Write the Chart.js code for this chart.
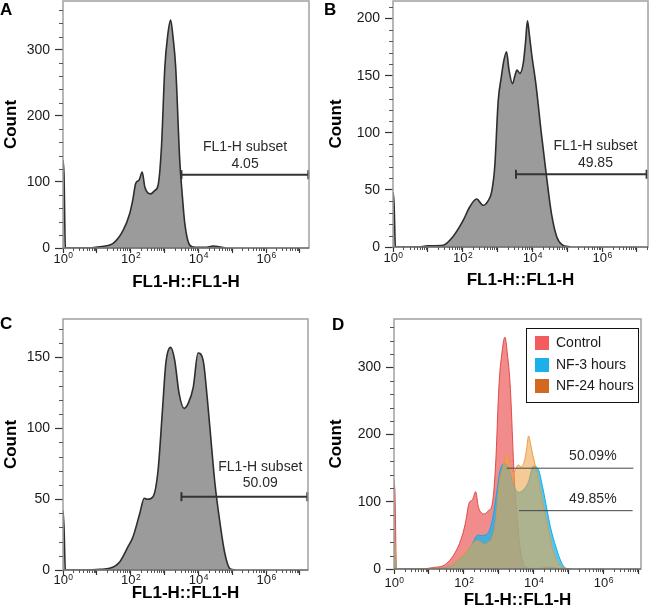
<!DOCTYPE html>
<html>
<head>
<meta charset="utf-8">
<script src="https://cdn.jsdelivr.net/npm/chart.js@4.4.1/dist/chart.umd.min.js"></script>
<style>
  body { margin: 0; background: #fff; width: 649px; height: 613px; overflow: hidden; position: relative; }
  .panel { position: absolute; }
  .letter { position: absolute; font: bold 17px "Liberation Sans", Arial, sans-serif; line-height: 1; color: #000; }
</style>
</head>
<body>
<canvas class="panel" id="chartA" width="325" height="300" style="left:0;top:0"></canvas>
<canvas class="panel" id="chartB" width="324" height="300" style="left:325px;top:0"></canvas>
<canvas class="panel" id="chartC" width="325" height="313" style="left:0;top:300px"></canvas>
<canvas class="panel" id="chartD" width="324" height="313" style="left:325px;top:300px"></canvas>
<div class="letter" style="left:0;top:1px">A</div>
<div class="letter" style="left:324px;top:1px">B</div>
<div class="letter" style="left:0;top:315px">C</div>
<div class="letter" style="left:332px;top:316px">D</div>
<script>
// x values are decades of FL1-H intensity (log10), y values are event counts
const decadesA = [0, 0.03, 0.07, 0.8, 1.1, 1.48, 1.78, 1.97, 2.06, 2.15, 2.25, 2.34, 2.42, 2.59, 2.71, 2.81, 2.91, 3.01, 3.09, 3.18, 3.25, 3.33, 3.45, 3.53, 3.6, 3.75, 3.9, 4.2, 4.44, 4.6, 4.8];
const countsA = [133, 110, 0, 0, 2, 7, 27, 52, 72, 98, 103, 115, 92, 82, 87, 95, 153, 274, 320, 345, 320, 274, 133, 77, 37, 4, 1, 1, 3, 2, 0];

const decadesB = [0, 0.03, 0.07, 0.7, 1.0, 1.44, 1.72, 2.01, 2.2, 2.4, 2.59, 2.72, 2.83, 2.92, 3.02, 3.11, 3.18, 3.26, 3.33, 3.43, 3.5, 3.56, 3.64, 3.74, 3.8, 3.86, 3.91, 3.98, 4.1, 4.26, 4.41, 4.55, 4.7, 4.85, 5.1];
const countsB = [48, 38, 0, 0, 1, 1.5, 9, 23, 35, 42, 36.5, 40, 48, 70, 128, 149, 163, 171, 155, 143, 150, 155, 152, 161, 178, 198, 187, 169, 143, 99, 61, 29, 9, 2, 0];

const decadesC = [0, 0.03, 0.07, 0.79, 1.09, 1.38, 1.68, 1.92, 2.07, 2.27, 2.4, 2.49, 2.66, 2.81, 2.94, 3.04, 3.18, 3.3, 3.43, 3.58, 3.7, 3.85, 3.99, 4.14, 4.26, 4.39, 4.49, 4.64, 4.78, 4.93, 5.1];
const countsC = [42, 30, 0, 0, 0.5, 1.2, 5.9, 16.4, 23.5, 40, 50.6, 49.9, 51.7, 70.5, 113, 146, 157, 148, 124.6, 114, 117.5, 129, 153, 148, 122, 87, 61, 33, 12, 1, 0];

// gates: [from decade, to decade, count level]
const gateA = [3.5, 7.25, 111];
const gateB = [3.53, 7.28, 63.7];
const gateC = [3.5, 7.22, 51.7];
const gateD1 = [3.23, 6.86, 150];
const gateD2 = [3.58, 6.84, 86.8];
const gateTextA = ['FL1-H subset', '4.05'];
const gateTextB = ['FL1-H subset', '49.85'];
const gateTextC = ['FL1-H subset', '50.09'];
const gateTextD = ['50.09%', '49.85%'];

const seriesD = ['Control', 'NF-3 hours', 'NF-24 hours'];
const legendColorsD = ['#f25c5c', '#1cb0ea', '#d2691e'];

const yTicksA = [0, 100, 200, 300];
const yTicksB = [0, 50, 100, 150, 200];
const yTicksC = [0, 50, 100, 150];
const yTicksD = [0, 100, 200, 300];
const decadeTicks = [0, 1, 2, 3, 4, 5, 6, 7];
const labelledDecades = [0, 2, 4, 6];

const FONT = '"Liberation Sans", Arial, Helvetica, sans-serif';
Chart.defaults.font.family = FONT;
Chart.defaults.color = '#1a1a1a';

const frame = {
  id: 'frame',
  afterDatasetsDraw(chart) {
    const {ctx, chartArea: a} = chart;
    ctx.save();
    ctx.strokeStyle = '#a0a0a0';
    ctx.lineWidth = 1.5;
    ctx.strokeRect(a.left, a.top, a.right - a.left, a.bottom - a.top);
    ctx.strokeStyle = '#555';
    ctx.lineWidth = 1.2;
    ctx.beginPath();
    ctx.moveTo(a.left, a.bottom);
    ctx.lineTo(a.right, a.bottom);
    ctx.stroke();
    ctx.restore();
  }
};

function minorTicks(step, majors) {
  return {
    id: 'minorTicks',
    afterDraw(chart) {
      const {ctx, chartArea: a, scales: {x, y}} = chart;
      ctx.save();
      ctx.strokeStyle = '#555';
      ctx.lineWidth = 1;
      ctx.beginPath();
      decadeTicks.forEach(d => {
        for (let k = 2; k <= 9; k++) {
          const v = d + Math.log10(k);
          if (v > x.max) continue;
          const px = Math.round(x.getPixelForValue(v)) + 0.5;
          ctx.moveTo(px, a.bottom);
          ctx.lineTo(px, a.bottom + 3);
        }
      });
      for (let v = step; v < y.max; v += step) {
        if (majors.includes(v)) continue;
        const py = Math.round(y.getPixelForValue(v)) + 0.5;
        ctx.moveTo(a.left - 4, py);
        ctx.lineTo(a.left, py);
      }
      ctx.stroke();
      ctx.restore();
    }
  };
}

// "10" with a small raised exponent under each even decade
function decadeLabels(gap) {
  return {
    id: 'decadeLabels',
    afterDraw(chart) {
      const {ctx, chartArea: a, scales: {x}} = chart;
      const base = a.bottom + gap + 9.3;
      ctx.save();
      ctx.fillStyle = '#1a1a1a';
      ctx.textAlign = 'left';
      ctx.textBaseline = 'alphabetic';
      labelledDecades.forEach(d => {
        if (d > x.max) return;
        const e = String(d);
        ctx.font = '13px ' + FONT;
        const wb = ctx.measureText('10').width;
        ctx.font = '8.5px ' + FONT;
        const we = ctx.measureText(e).width;
        const x0 = x.getPixelForValue(d) - (wb + we) / 2;
        ctx.font = '13px ' + FONT;
        ctx.fillText('10', x0, base);
        ctx.font = '8.5px ' + FONT;
        ctx.fillText(e, x0 + wb + 0.5, base - 4.7);
      });
      ctx.restore();
    }
  };
}

function gateLabels(items) {
  return {
    id: 'gateLabels',
    afterDatasetsDraw(chart) {
      const {ctx, scales: {x, y}} = chart;
      ctx.save();
      ctx.font = '14px ' + FONT;
      ctx.fillStyle = '#2a2a2a';
      ctx.textAlign = 'center';
      ctx.textBaseline = 'middle';
      items.forEach(it => {
        const px = x.getPixelForValue(it.x);
        const py = y.getPixelForValue(it.y);
        it.lines.forEach((t, i) => ctx.fillText(t, px, py - it.offsets[i]));
      });
      ctx.restore();
    }
  };
}

function insideLegend(labels, colors) {
  return {
    id: 'insideLegend',
    afterDatasetsDraw(chart) {
      const {ctx, chartArea: a} = chart;
      const left = Math.round(a.right - 115), top = Math.round(a.top + 9);
      ctx.save();
      ctx.fillStyle = '#fff';
      ctx.fillRect(left, top, 112, 74);
      ctx.strokeStyle = '#111';
      ctx.lineWidth = 1;
      ctx.strokeRect(left + 0.5, top + 0.5, 112, 74);
      ctx.font = '14px ' + FONT;
      ctx.textAlign = 'left';
      ctx.textBaseline = 'middle';
      labels.forEach((lab, i) => {
        const cy = top + 15 + i * 21.7;
        ctx.fillStyle = colors[i];
        ctx.fillRect(left + 9, Math.round(cy - 7), 14, 14);
        ctx.fillStyle = '#1a1a1a';
        ctx.fillText(lab, left + 30, cy);
      });
      ctx.restore();
    }
  };
}

function points(decades, counts) {
  return decades.map((d, i) => ({x: d, y: counts[i]}));
}

function histDataset(label, decades, counts, fill, line, width, order) {
  return {
    label,
    data: points(decades, counts),
    backgroundColor: fill,
    borderColor: line,
    borderWidth: width,
    fill: 'origin',
    pointRadius: 0,
    cubicInterpolationMode: 'monotone',
    order
  };
}

function gateDataset(g, capped) {
  return {
    data: [{x: g[0], y: g[2]}, {x: g[1], y: g[2]}],
    borderColor: capped ? '#333' : '#444',
    borderWidth: capped ? 2 : 1,
    fill: false,
    pointRadius: capped ? 4.5 : 0,
    pointStyle: 'line',
    rotation: 90,
    pointBorderColor: '#333',
    pointBorderWidth: 2,
    clip: false,
    order: 0
  };
}

function makePanel(id, p) {
  const [l, t, r, b] = p.area;
  const [w, h] = p.size;
  return new Chart(document.getElementById(id), {
    type: 'line',
    data: {datasets: p.datasets},
    options: {
      responsive: false,
      animation: false,
      events: [],
      layout: {autoPadding: false, padding: {left: 0, top: t, right: w - r, bottom: 0}},
      plugins: {legend: {display: false}, tooltip: {enabled: false}},
      scales: {
        x: {
          type: 'linear', min: 0, max: p.xMax,
          afterBuildTicks: s => { s.ticks = decadeTicks.filter(v => v <= p.xMax).map(v => ({value: v})); },
          afterFit: s => { s.height = h - b; s.paddingLeft = 0; s.paddingRight = 0; },
          ticks: {autoSkip: false, maxRotation: 0, callback: () => ''},
          grid: {drawOnChartArea: false, tickLength: 5, tickColor: '#333', tickWidth: 1.2},
          border: {display: false},
          title: {display: true, text: 'FL1-H::FL1-H', color: '#000',
            font: {size: 17, weight: 'bold'}, padding: {top: 0, bottom: p.titlePad}}
        },
        y: {
          min: 0, max: p.yMax,
          afterBuildTicks: s => { s.ticks = p.yTicks.map(v => ({value: v})); },
          afterFit: s => { s.width = l; s.paddingTop = 0; s.paddingBottom = 0; },
          ticks: {padding: 5, font: {size: 14}, color: '#1a1a1a'},
          grid: {drawOnChartArea: false, tickLength: 8, tickColor: '#333', tickWidth: 1.2},
          border: {display: false},
          title: {display: true, text: 'Count', color: '#000',
            font: {size: 17, weight: 'bold'}, padding: {top: 1, bottom: 0}}
        }
      }
    },
    plugins: [frame, minorTicks(p.yMinor, p.yTicks), decadeLabels(p.labelGap)].concat(p.plugins)
  });
}

const GRAY = '#9b9b9b';
const OUTLINE = '#2e2e2e';

makePanel('chartA', {
  area: [63, 1, 309, 248], size: [325, 300], titlePad: 7, labelGap: 5.5,
  xMax: 7.27, yMax: 374, yTicks: yTicksA, yMinor: 20,
  datasets: [histDataset('A', decadesA, countsA, GRAY, OUTLINE, 1.6, 1), gateDataset(gateA, true)],
  plugins: [gateLabels([{x: 5.38, y: gateA[2], lines: gateTextA, offsets: [28, 11]}])]
});

makePanel('chartB', {
  area: [68, 1, 323, 247], size: [324, 300], titlePad: 9, labelGap: 6,
  xMax: 7.32, yMax: 215.4, yTicks: yTicksB, yMinor: 10,
  datasets: [histDataset('B', decadesB, countsB, GRAY, OUTLINE, 1.6, 1), gateDataset(gateB, true)],
  plugins: [gateLabels([{x: 5.81, y: gateB[2], lines: gateTextB, offsets: [28, 11]}])]
});

makePanel('chartC', {
  area: [63, 19, 308, 270], size: [325, 313], titlePad: 9, labelGap: 5,
  xMax: 7.24, yMax: 177, yTicks: yTicksC, yMinor: 10,
  datasets: [histDataset('C', decadesC, countsC, GRAY, OUTLINE, 1.6, 1), gateDataset(gateC, true)],
  plugins: [gateLabels([{x: 5.83, y: gateC[2], lines: gateTextC, offsets: [30, 14]}])]
});

makePanel('chartD', {
  area: [69, 19, 316, 269], size: [324, 313], titlePad: 2, labelGap: 9,
  xMax: 7.08, yMax: 372, yTicks: yTicksD, yMinor: 20,
  datasets: [
    histDataset(seriesD[0], decadesA, countsA, 'rgba(233, 63, 63, 0.6)', 'rgba(220, 60, 60, 0.9)', 1, 3),
    histDataset(seriesD[1], decadesC, countsC, 'rgba(22, 182, 235, 0.75)', 'rgba(20, 165, 225, 0.95)', 1, 2),
    histDataset(seriesD[2], decadesB, countsB, 'rgba(240, 164, 70, 0.58)', 'rgba(232, 150, 60, 0.9)', 1, 1),
    gateDataset(gateD1, false),
    gateDataset(gateD2, false)
  ],
  plugins: [
    gateLabels([
      {x: 5.7, y: gateD1[2], lines: [gateTextD[0]], offsets: [12]},
      {x: 5.7, y: gateD2[2], lines: [gateTextD[1]], offsets: [12]}
    ]),
    insideLegend(seriesD, legendColorsD)
  ]
});
</script>
</body>
</html>
